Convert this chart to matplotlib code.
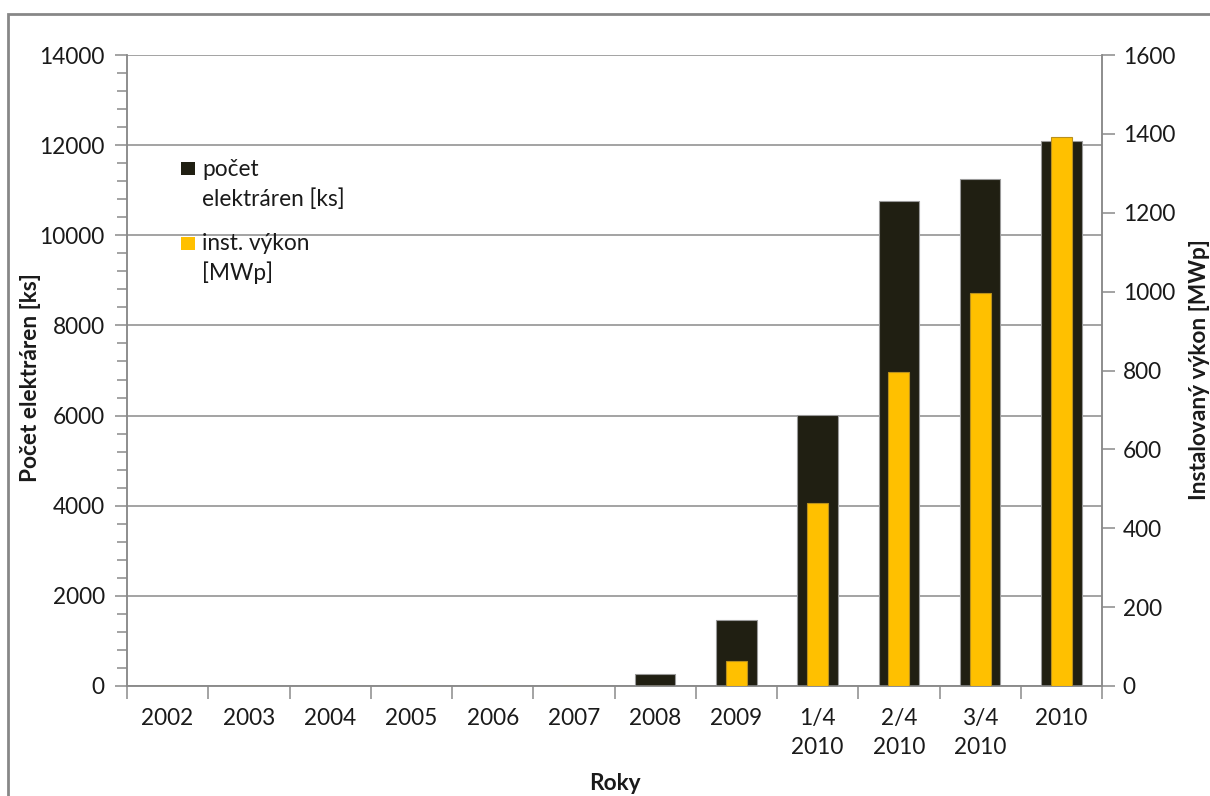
import matplotlib
matplotlib.use("Agg")
import matplotlib.pyplot as plt
from matplotlib.patches import Rectangle
import numpy as np

plt.rcParams['font.family'] = ['Lato', 'DejaVu Sans']

# Data
categories = ["2002", "2003", "2004", "2005", "2006", "2007", "2008", "2009",
              "1/4\n2010", "2/4\n2010", "3/4\n2010", "2010"]
plant_count = [0, 0, 0, 0, 0, 0, 260, 1460, 6010, 10760, 11250, 12100]      # [ks]
installed_mw = [0, 0, 0, 0, 0, 0, 0, 64, 463, 797, 996, 1392]                  # [MWp]
series_labels = [["počet", "elektráren [ks]"], ["inst. výkon", "[MWp]"]]

W, H = 1210, 796
fig = plt.figure(figsize=(W / 100, H / 100), dpi=100)
fig.patch.set_facecolor("white")

left, right, top, bottom = 127, 1102, 55, 686
ax = fig.add_axes([left / W, 1 - bottom / H, (right - left) / W, (bottom - top) / H])
ax2 = ax.twinx()

grey = "#8a8a8a"
txt = "#1a1a1a"
black_bar = "#201f12"
yellow_bar = "#ffc000"
fs = 16.3

x = np.arange(len(categories))
ax.bar(x, plant_count, width=0.5, color=black_bar, edgecolor="#9a9a9a",
       linewidth=0.8, zorder=3)
ax2.bar(x, installed_mw, width=0.26, color=yellow_bar, edgecolor="#b8901e",
        linewidth=0.8, zorder=3)

# Left axis
ax.set_xlim(-0.5, len(categories) - 0.5)
ax.set_ylim(0, 14000)
ax.set_yticks(np.arange(0, 14001, 2000))
ax.set_yticks(np.arange(0, 14001, 400), minor=True)
ax.yaxis.grid(True, which="major", color=grey, linewidth=1.1, zorder=0)
ax.set_axisbelow(True)

# Right axis
ax2.set_ylim(0, 1600)
ax2.set_yticks(np.arange(0, 1601, 200))

# Category boundaries as ticks, labels centred between them
ax.set_xticks(np.arange(-0.5, len(categories), 1.0))
ax.set_xticklabels([])
ax.set_xticks(x, minor=True)
ax.set_xticklabels(categories, minor=True, fontsize=fs, color=txt, linespacing=1.48)
ax.tick_params(axis="x", which="major", length=9, width=1.1, color=grey, direction="out")
ax.tick_params(axis="x", which="minor", length=0, pad=16)

ax.tick_params(axis="y", which="major", length=9, width=1.1, color=grey,
               labelsize=fs, labelcolor=txt, pad=7)
ax.tick_params(axis="y", which="minor", length=7, width=1.1, color=grey)
ax2.tick_params(axis="y", which="major", length=9, width=1.1, color=grey,
                labelsize=fs, labelcolor=txt, pad=6)

for a in (ax, ax2):
    a.spines["top"].set_visible(False)
    for s in ("left", "right", "bottom"):
        a.spines[s].set_color(grey)
        a.spines[s].set_linewidth(1.1)

axw, axh = right - left, bottom - top
ax.set_ylabel("Počet elektráren [ks]", fontsize=fs, fontweight="bold", color=txt,
              va="center")
ax.yaxis.set_label_coords((31 - left) / axw, 0.5 - (378 - (top + bottom) / 2) / axh)
ax2.set_ylabel("Instalovaný výkon [MWp]", fontsize=fs, fontweight="bold", color=txt,
               va="center")
ax2.yaxis.set_label_coords((1199 - left) / axw, 0.5 - (370 - (top + bottom) / 2) / axh)
ax.set_xlabel("Roky", fontsize=fs, fontweight="bold", color=txt, va="center")
ax.xaxis.set_label_coords(0.5, (bottom - 783) / axh)

# Legend: square swatches with two-line labels
legend_rows = [(black_bar, 162, (169, 199)), (yellow_bar, 237, (243.5, 273))]
for (color, sq_top, line_y), lines in zip(legend_rows, series_labels):
    fig.patches.append(Rectangle((181 / W, 1 - (sq_top + 13) / H), 14 / W, 13 / H,
                                 transform=fig.transFigure, facecolor=color,
                                 edgecolor="none"))
    for ly, line in zip(line_y, lines):
        fig.text(202 / W, 1 - ly / H, line, fontsize=fs, color=txt,
                 ha="left", va="center")

# Outer chart frame
fig.patches.append(Rectangle((8 / W, -0.05), 1.1, 1 - 14 / H + 0.05,
                             transform=fig.transFigure, fill=False,
                             edgecolor="#878787", linewidth=2.0, clip_on=False))

fig.savefig("out.png", dpi=100)
